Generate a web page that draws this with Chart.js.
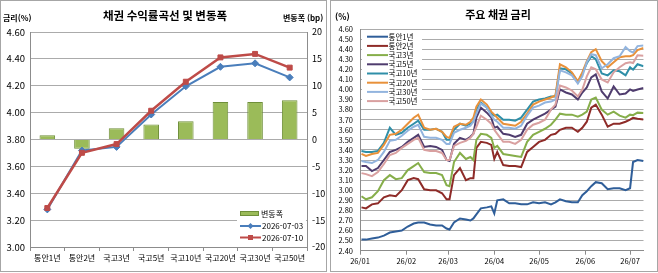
<!DOCTYPE html>
<html lang="ko">
<head>
<meta charset="utf-8">
<title>채권 수익률곡선 및 주요 채권 금리</title>
<script src="https://cdn.jsdelivr.net/npm/chart.js@4.4.1/dist/chart.umd.min.js"></script>
<style>
  html, body { margin: 0; padding: 0; background: #fff; }
  #wrap { position: relative; width: 658px; height: 273px; }
  canvas { position: absolute; top: 0; }
  #curveChart { left: 0; }
  #rateChart { left: 330px; }
</style>
</head>
<body>
<div id="wrap">
  <canvas id="curveChart" width="328" height="273"></canvas>
  <canvas id="rateChart" width="328" height="273"></canvas>
</div>
<script>
const FONT = "'Noto Sans CJK KR', 'Noto Sans', sans-serif";
Chart.defaults.font.family = FONT;
Chart.defaults.color = '#000';
Chart.defaults.animation = false;

// -- Left panel: yield curve (07-03 vs 07-10) and change in bp ----------
const tenors = ['통안1년', '통안2년', '국고3년', '국고5년', '국고10년', '국고20년', '국고30년', '국고50년'];
const curve0703 = [3.280, 3.718, 3.745, 3.986, 4.196, 4.341, 4.367, 4.262];
const curve0710 = [3.290, 3.701, 3.766, 4.014, 4.230, 4.411, 4.437, 4.335];
const changeBp = [0.8, -1.7, 2.1, 2.8, 3.4, 7.0, 7.0, 7.3];

// -- Right panel: daily yields, x = day of 2026 (Jan 1 = 0) -------------
const monthStarts = [0, 31, 59, 90, 120, 151, 181];
const monthLabels = ['26/01', '26/02', '26/03', '26/04', '26/05', '26/06', '26/07'];
const days = [1, 4, 8, 12, 16, 20, 24, 28, 32, 36, 39, 43, 47, 51, 55, 58, 60, 63, 67, 71,
  74, 76, 78, 81, 85, 88, 90, 92, 96, 100, 104, 108, 112, 116, 120, 124, 128, 131, 134, 138,
  142, 146, 149, 152, 155, 158, 162, 166, 170, 174, 178, 181, 183, 186, 190];
const msb1y = [2.51, 2.51, 2.52, 2.53, 2.55, 2.58, 2.59, 2.60, 2.64, 2.67, 2.68, 2.68, 2.66, 2.65, 2.65, 2.62, 2.61, 2.68, 2.72, 2.71,
  2.70, 2.72, 2.76, 2.82, 2.83, 2.84, 2.77, 2.90, 2.91, 2.87, 2.87, 2.86, 2.86, 2.88, 2.87, 2.88, 2.86, 2.88, 2.91, 2.89,
  2.88, 2.88, 2.95, 2.99, 3.04, 3.08, 3.07, 3.01, 3.02, 3.02, 3.00, 3.02, 3.28, 3.30, 3.29];
const msb2y = [2.83, 2.82, 2.86, 2.87, 2.93, 2.95, 2.94, 3.00, 3.10, 3.12, 3.11, 3.01, 3.00, 3.00, 2.97, 2.91, 2.91, 3.15, 3.22, 3.10,
  3.12, 3.12, 3.42, 3.48, 3.47, 3.45, 3.31, 3.38, 3.25, 3.24, 3.24, 3.23, 3.38, 3.43, 3.48, 3.50, 3.55, 3.56, 3.60, 3.62,
  3.62, 3.58, 3.62, 3.68, 3.82, 3.85, 3.75, 3.63, 3.66, 3.66, 3.68, 3.70, 3.718, 3.71, 3.701];
const ktb3y = [2.94, 2.91, 2.93, 2.99, 3.10, 3.15, 3.11, 3.12, 3.20, 3.24, 3.27, 3.18, 3.17, 3.17, 3.15, 3.05, 3.04, 3.28, 3.37, 3.31,
  3.33, 3.30, 3.50, 3.56, 3.55, 3.52, 3.42, 3.44, 3.36, 3.35, 3.34, 3.33, 3.48, 3.55, 3.58, 3.61, 3.65, 3.70, 3.76, 3.75,
  3.75, 3.73, 3.75, 3.78, 3.90, 3.92, 3.80, 3.75, 3.78, 3.74, 3.72, 3.75, 3.745, 3.77, 3.766];
const ktb5y = [3.24, 3.24, 3.19, 3.22, 3.30, 3.38, 3.40, 3.43, 3.48, 3.52, 3.55, 3.43, 3.44, 3.43, 3.40, 3.30, 3.29, 3.46, 3.52, 3.50,
  3.53, 3.56, 3.72, 3.82, 3.77, 3.72, 3.62, 3.63, 3.56, 3.55, 3.53, 3.55, 3.66, 3.70, 3.73, 3.76, 3.80, 3.83, 4.00, 3.97,
  3.95, 3.90, 3.97, 4.02, 4.12, 4.15, 3.98, 3.91, 4.03, 3.95, 3.96, 4.00, 3.986, 4.00, 4.014];
const ktb10y = [3.39, 3.38, 3.38, 3.39, 3.47, 3.62, 3.55, 3.57, 3.62, 3.66, 3.69, 3.60, 3.60, 3.61, 3.58, 3.50, 3.50, 3.60, 3.66, 3.64,
  3.66, 3.68, 3.80, 3.87, 3.82, 3.76, 3.74, 3.75, 3.70, 3.70, 3.69, 3.72, 3.80, 3.88, 3.90, 3.91, 3.93, 3.93, 4.21, 4.20,
  4.16, 4.07, 4.16, 4.26, 4.33, 4.30, 4.16, 4.14, 4.19, 4.18, 4.14, 4.22, 4.196, 4.25, 4.23];
const ktb20y = [3.36, 3.34, 3.36, 3.37, 3.45, 3.55, 3.56, 3.60, 3.66, 3.72, 3.75, 3.62, 3.60, 3.61, 3.58, 3.53, 3.52, 3.63, 3.66, 3.65,
  3.68, 3.72, 3.83, 3.90, 3.85, 3.78, 3.75, 3.72, 3.66, 3.65, 3.64, 3.68, 3.76, 3.85, 3.88, 3.90, 3.92, 3.94, 4.25, 4.22,
  4.17, 4.08, 4.17, 4.28, 4.37, 4.40, 4.28, 4.22, 4.27, 4.32, 4.33, 4.33, 4.341, 4.39, 4.411];
const ktb30y = [3.29, 3.28, 3.27, 3.30, 3.38, 3.49, 3.50, 3.54, 3.59, 3.63, 3.65, 3.53, 3.52, 3.52, 3.50, 3.46, 3.46, 3.57, 3.60, 3.62,
  3.64, 3.68, 3.76, 3.86, 3.82, 3.74, 3.70, 3.68, 3.62, 3.62, 3.61, 3.64, 3.74, 3.82, 3.84, 3.87, 3.88, 3.90, 4.19, 4.17,
  4.14, 4.06, 4.13, 4.27, 4.35, 4.34, 4.21, 4.25, 4.31, 4.33, 4.42, 4.38, 4.367, 4.43, 4.437];
const ktb50y = [3.17, 3.16, 3.14, 3.18, 3.26, 3.35, 3.37, 3.42, 3.46, 3.50, 3.52, 3.40, 3.39, 3.39, 3.37, 3.30, 3.30, 3.44, 3.47, 3.49,
  3.52, 3.56, 3.63, 3.74, 3.70, 3.66, 3.60, 3.56, 3.48, 3.48, 3.46, 3.50, 3.60, 3.65, 3.67, 3.70, 3.80, 3.85, 4.04, 4.02,
  3.99, 3.93, 4.00, 4.13, 4.22, 4.20, 4.10, 4.07, 4.17, 4.22, 4.26, 4.27, 4.262, 4.34, 4.335];

const rateSeries = [
  ['통안1년', msb1y, '#2F5E99'],
  ['통안2년', msb2y, '#8E2B28'],
  ['국고3년', ktb3y, '#86AE4A'],
  ['국고5년', ktb5y, '#4F3C6E'],
  ['국고10년', ktb10y, '#2F8FA8'],
  ['국고20년', ktb20y, '#E8913A'],
  ['국고30년', ktb30y, '#92B4DE'],
  ['국고50년', ktb50y, '#D9A0A0'],
];

const GRID = '#ababab';
const AXIS = '#8c8c8c';

function text(ctx, str, x, y, font, align = 'left') {
  ctx.font = font;
  ctx.textAlign = align;
  ctx.textBaseline = 'middle';
  ctx.fillStyle = '#000';
  ctx.fillText(str, x, y);
}

// -- Left chart -----------------------------------------------------------
new Chart(document.getElementById('curveChart'), {
  type: 'bar',
  data: {
    labels: tenors,
    datasets: [
      { type: 'bar', label: '변동폭', data: changeBp, yAxisID: 'bp',
        backgroundColor: '#9BBB59', borderColor: '#6F8F3A', borderWidth: 1,
        barPercentage: 0.45, categoryPercentage: 1, order: 3 },
      { type: 'line', label: '2026-07-03', data: curve0703, yAxisID: 'rate',
        borderColor: '#4A7EBB', backgroundColor: '#4A7EBB', borderWidth: 2,
        pointStyle: 'rectRot', pointRadius: 3.5, pointBorderWidth: 1, order: 2 },
      { type: 'line', label: '2026-07-10', data: curve0710, yAxisID: 'rate',
        borderColor: '#BE4B48', backgroundColor: '#BE4B48', borderWidth: 2.5,
        pointStyle: 'rect', pointRadius: 3.5, pointBorderWidth: 1, order: 1 },
    ],
  },
  options: {
    responsive: false,
    layout: { padding: { top: 32, left: 0, right: 0, bottom: 0 } },
    plugins: { legend: { display: false }, tooltip: { enabled: false } },
    scales: {
      x: {
        grid: { offset: true, drawOnChartArea: false, tickLength: 4, color: AXIS },
        border: { color: AXIS },
        ticks: { font: { size: 8 }, maxRotation: 0, autoSkip: false, padding: 2 },
        afterFit: (s) => { s.height = 26; },
      },
      rate: {
        position: 'left', min: 3, max: 4.6,
        grid: { color: GRID, drawTicks: false },
        border: { color: AXIS },
        ticks: { stepSize: 0.2, padding: 5, font: { size: 9.5 }, callback: (v) => v.toFixed(2) },
        afterFit: (s) => { s.width = 30; },
      },
      bp: {
        position: 'right', min: -20, max: 20,
        grid: { drawOnChartArea: false, drawTicks: false },
        border: { color: AXIS },
        ticks: { stepSize: 5, padding: 5, font: { size: 9 } },
        afterFit: (s) => { s.width = 21; },
      },
    },
  },
  plugins: [{
    id: 'curveDecor',
    afterDraw(chart) {
      const { ctx } = chart;
      ctx.save();
      ctx.strokeStyle = '#a6a6a6';
      ctx.lineWidth = 1;
      ctx.strokeRect(0.5, 0.5, 326, 271);
      text(ctx, '채권 수익률곡선 및 변동폭', 165, 16, 'bold 11.5px ' + FONT, 'center');
      text(ctx, '금리(%)', 3, 18, 'bold 8px ' + FONT);
      text(ctx, '변동폭 (bp)', 283, 18, 'bold 8px ' + FONT);

      // legend, bottom right inside the plot
      const [bar, d1, d2] = chart.data.datasets;
      ctx.fillStyle = '#fff';
      ctx.fillRect(237, 206, 69, 39);
      ctx.fillStyle = bar.backgroundColor;
      ctx.fillRect(240, 211, 19, 5);
      ctx.strokeStyle = bar.borderColor;
      ctx.strokeRect(240.5, 211.5, 18, 4);
      text(ctx, bar.label, 261, 214, '8px ' + FONT);

      [[d1, 226], [d2, 237.5]].forEach(([ds, y]) => {
        ctx.strokeStyle = ds.borderColor;
        ctx.lineWidth = 2;
        ctx.beginPath(); ctx.moveTo(240, y); ctx.lineTo(261, y); ctx.stroke();
        ctx.fillStyle = ds.backgroundColor;
        if (ds.pointStyle === 'rect') {
          ctx.fillRect(248, y - 2.5, 5, 5);
        } else {
          ctx.beginPath();
          ctx.moveTo(250.5, y - 3); ctx.lineTo(253.5, y); ctx.lineTo(250.5, y + 3); ctx.lineTo(247.5, y);
          ctx.closePath(); ctx.fill();
        }
        text(ctx, ds.label, 262, y, '8px ' + FONT);
      });
      ctx.restore();
    },
  }],
});

// -- Right chart ----------------------------------------------------------
new Chart(document.getElementById('rateChart'), {
  type: 'line',
  data: {
    datasets: rateSeries.map(([label, values, color], i) => ({
      label, borderColor: color, backgroundColor: color,
      borderWidth: 2, pointRadius: 0, order: rateSeries.length - i,
      data: days.map((d, k) => ({ x: d, y: values[k] })),
    })),
  },
  options: {
    responsive: false,
    layout: { padding: { top: 29, left: 0, right: 14.5, bottom: 0 } },
    plugins: { legend: { display: false }, tooltip: { enabled: false } },
    scales: {
      x: {
        type: 'linear', min: 0, max: 190,
        afterBuildTicks: (s) => { s.ticks = monthStarts.map((v) => ({ value: v })); },
        grid: { drawOnChartArea: false, tickLength: 4, color: AXIS },
        border: { color: AXIS },
        ticks: { font: { size: 7.5 }, maxRotation: 0, autoSkip: false, padding: 2,
          callback: (v, i) => monthLabels[i] },
        afterFit: (s) => { s.height = 22.3; },
      },
      y: {
        min: 2.4, max: 4.6,
        grid: { color: GRID, drawTicks: false },
        border: { color: AXIS },
        ticks: { stepSize: 0.1, padding: 7, autoSkip: false, font: { size: 7.5 },
          callback: (v) => v.toFixed(2) },
        afterFit: (s) => { s.width = 30; },
      },
    },
  },
  plugins: [{
    id: 'rateDecor',
    afterDraw(chart) {
      const { ctx } = chart;
      ctx.save();
      ctx.strokeStyle = '#a6a6a6';
      ctx.lineWidth = 1;
      ctx.strokeRect(0.5, 0.5, 327, 271);
      text(ctx, '주요 채권 금리', 168, 15, 'bold 11px ' + FONT, 'center');
      text(ctx, '(%)', 5, 17, 'bold 8.5px ' + FONT);

      // legend, top left inside the plot
      ctx.fillStyle = '#fff';
      ctx.fillRect(32, 31, 60, 75);
      chart.data.datasets.forEach((ds, i) => {
        const y = 36.7 + i * 9.2;
        ctx.strokeStyle = ds.borderColor;
        ctx.lineWidth = 2;
        ctx.beginPath(); ctx.moveTo(37, y); ctx.lineTo(58, y); ctx.stroke();
        text(ctx, ds.label, 58.5, y, '7.5px ' + FONT);
      });
      ctx.restore();
    },
  }],
});
</script>
</body>
</html>
